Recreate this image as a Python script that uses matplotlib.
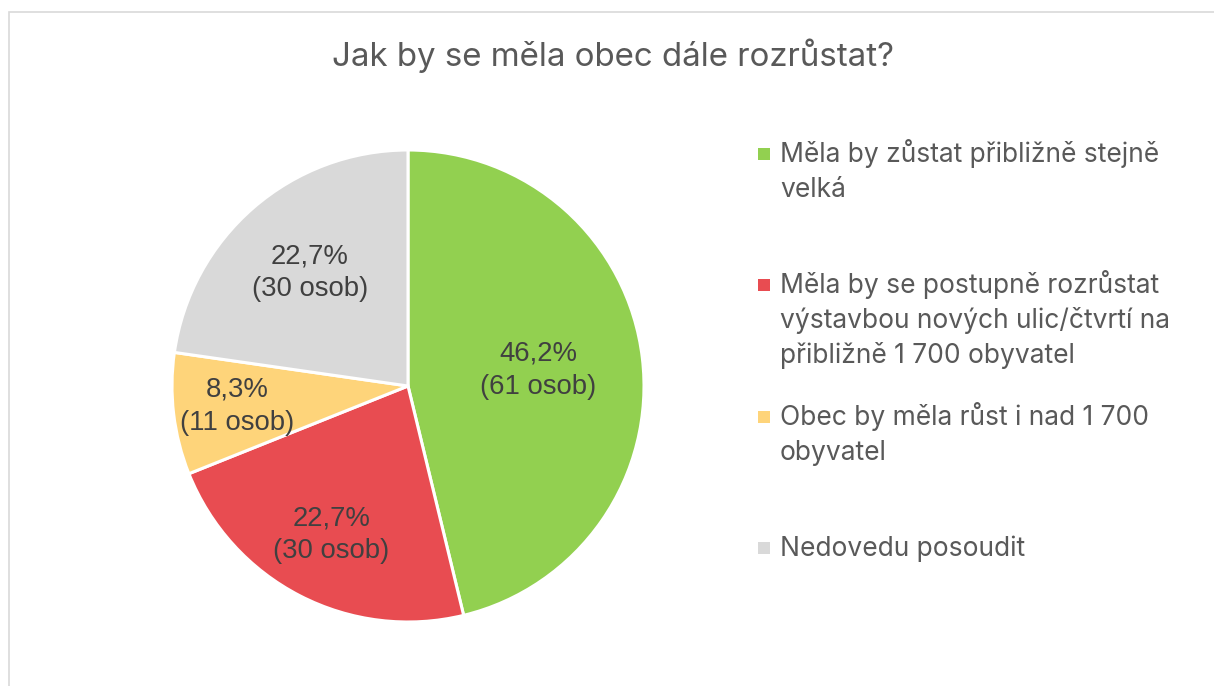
import numpy as np
import matplotlib.pyplot as plt
from matplotlib.patches import Rectangle

# data
categories = [
    "Měla by zůstat přibližně stejně\nvelká",
    "Měla by se postupně rozrůstat\nvýstavbou nových ulic/čtvrtí na\npřibližně 1 700 obyvatel",
    "Obec by měla růst i nad 1 700\nobyvatel",
    "Nedovedu posoudit",
]
counts = [61, 30, 11, 30]
colors = ["#92D050", "#E84C51", "#FED47A", "#D9D9D9"]

# radial position of each data label, as fraction of the radius
label_dist = [0.555, 0.71, 0.73, 0.635]

W, H = 1214, 686
fig = plt.figure(figsize=(W / 100, H / 100), dpi=100)
fig.patch.set_facecolor("white")

# light frame that runs off the right/bottom edge
fig.patches.append(Rectangle((8.5 / W, -0.05), 1.1, (H - 11.5) / H + 0.05,
                             transform=fig.transFigure, fill=False,
                             edgecolor="#D9D9D9", linewidth=1.2))

fig.text(613 / W, 1 - 66 / H, "Jak by se měla obec dále rozrůstat?",
         ha="center", va="baseline", fontsize=23.8, color="#595959", family="Inter")

# pie axes: 1 data unit == 1 pixel
cx, cy, half = 408, 386, 240
ax = fig.add_axes([(cx - half) / W, (H - cy - half) / H, 2 * half / W, 2 * half / H])
R = 236
wedges, _ = ax.pie(counts, colors=colors, startangle=90, counterclock=False, radius=R,
                   wedgeprops=dict(edgecolor="white", linewidth=2.2))
ax.set_xlim(-half, half)
ax.set_ylim(-half, half)
ax.axis("off")

total = sum(counts)
for w, n, d in zip(wedges, counts, label_dist):
    mid = np.deg2rad((w.theta1 + w.theta2) / 2)
    pct = f"{100 * n / total:.1f}".replace(".", ",") + "%"
    ax.text(d * R * np.cos(mid), d * R * np.sin(mid), f"{pct}\n({n} osob)",
            ha="center", va="center", fontsize=19.8, color="#404040",
            family="Liberation Sans", linespacing=1.35)

# legend drawn by hand so each entry sits in its own slot like the original
leg_x, leg_top, slot, line_h = 764, 154, 131.3, 35
for i, (lab, c) in enumerate(zip(categories, colors)):
    yc = leg_top + i * slot
    fig.patches.append(Rectangle(((leg_x - 6) / W, 1 - (yc + 6) / H), 12 / W, 12 / H,
                                 transform=fig.transFigure, facecolor=c, edgecolor="none"))
    for k, line in enumerate(lab.split("\n")):
        fig.text(780 / W, 1 - (yc + 8 + k * line_h) / H, line, ha="left", va="baseline",
                 fontsize=19, color="#595959", family="Inter")

fig.savefig("out.png", dpi=100)
